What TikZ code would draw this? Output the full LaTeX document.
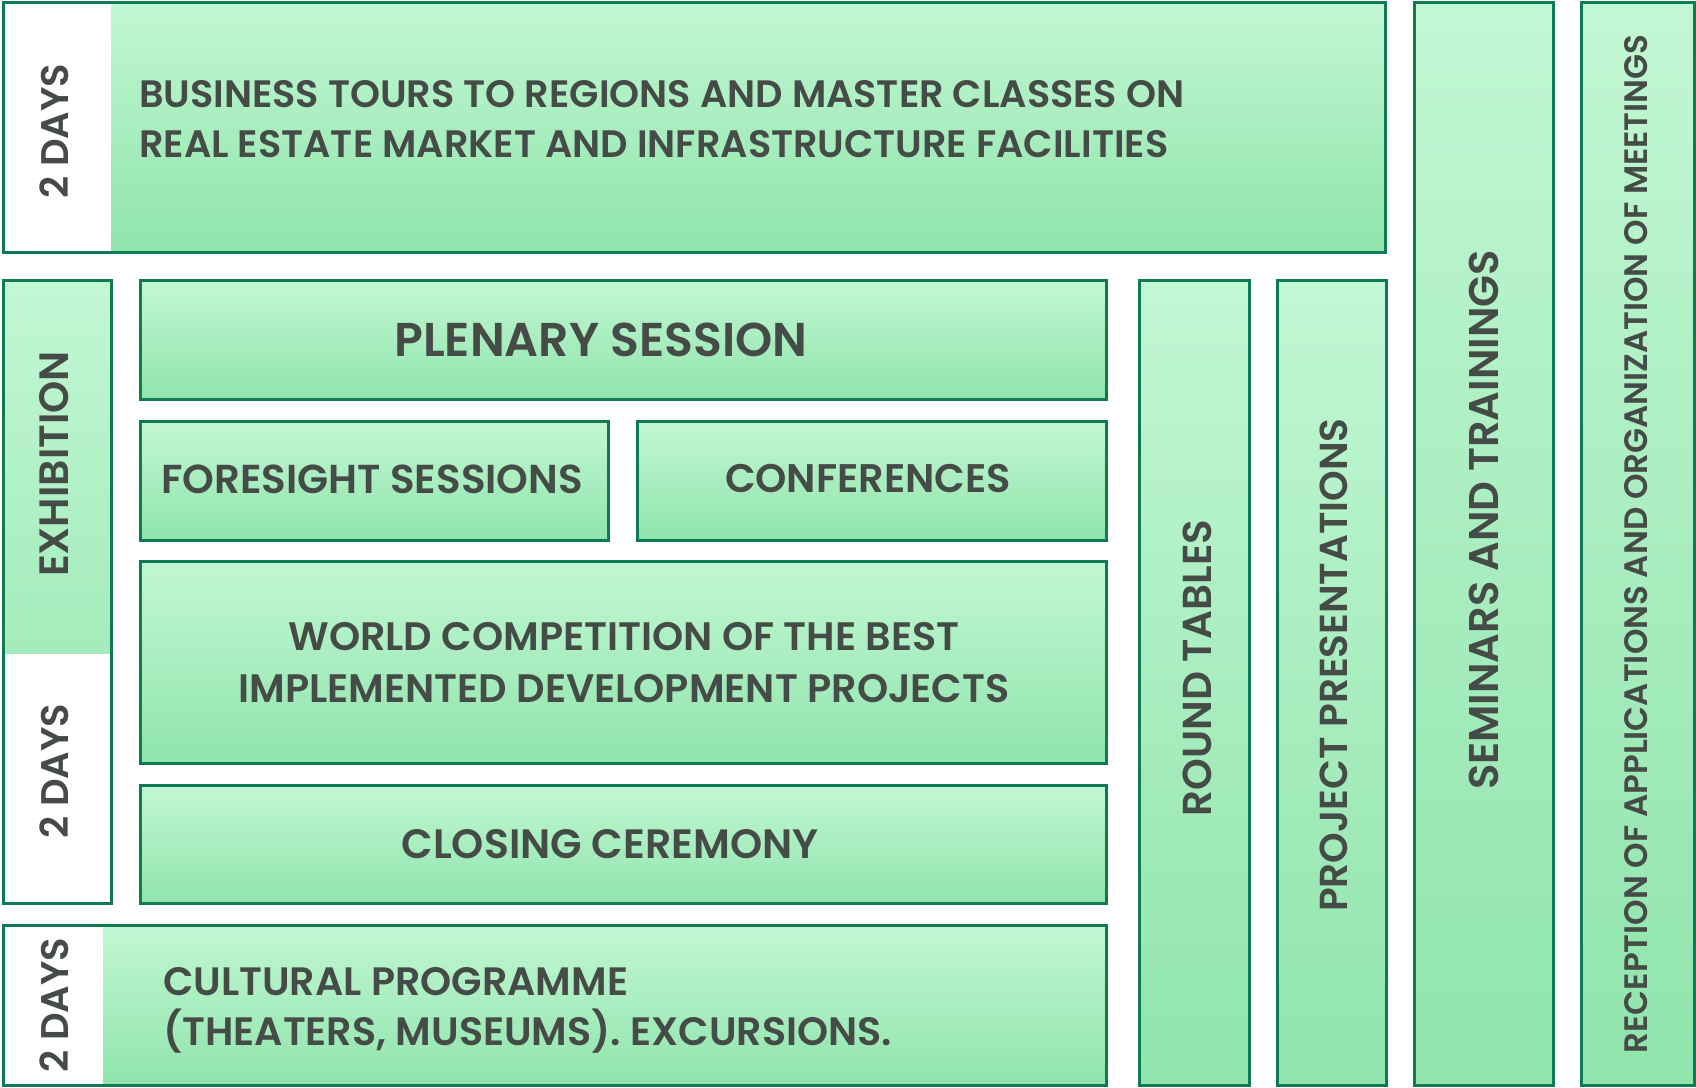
\documentclass[tikz,border=0pt]{standalone}
\usepackage{fontspec}
\newfontfamily\ff{Poppins SemiBold}
\definecolor{bgreen}{HTML}{0E7B52}
\definecolor{gtop}{HTML}{C2F7D3}
\definecolor{gbot}{HTML}{90E4AC}
\definecolor{tgray}{HTML}{454B47}
\tikzset{
  box/.style={draw=bgreen, line width=3pt, top color=gtop, bottom color=gbot},
  lbl/.style={text=tgray, inner sep=0pt, font=\ff},
  vlbl/.style={lbl, rotate=90},
}
\newcommand{\fs}[2]{\fontsize{#1}{#2}\selectfont}
\begin{document}
\begin{tikzpicture}[x=1pt,y=-1pt]
\useasboundingbox (0,0) rectangle (1696,1087);
% top box
\path[box] (3,2) rectangle (1385,252);
\fill[white] (4.5,3.5) rectangle (111,250.5);
\draw[bgreen, line width=3pt] (3,2) rectangle (1385,252);
% exhibition
\path[box] (3,280) rectangle (111,903);
\fill[white] (4.5,654) rectangle (109.5,901.5);
\draw[bgreen, line width=3pt] (3,280) rectangle (111,903);
% centre blocks
\path[box] (140,280) rectangle (1106,399);
\path[box] (140,421) rectangle (608,540);
\path[box] (637,421) rectangle (1106,540);
\path[box] (140,561) rectangle (1106,763);
\path[box] (140,785) rectangle (1106,903);
% cultural
\path[box] (3,925) rectangle (1106,1085);
\fill[white] (4.5,926.5) rectangle (103,1083.5);
\draw[bgreen, line width=3pt] (3,925) rectangle (1106,1085);
% tall columns
\path[box] (1139,280) rectangle (1249,1085);
\path[box] (1277,280) rectangle (1386,1085);
\path[box] (1414,2) rectangle (1553,1085);
\path[box] (1581,2) rectangle (1694,1085);
% labels
\node[vlbl, font=\ff\fs{38.5}{40}] (d1) at (54,131) {2 DAYS};
\node[lbl, anchor=west, align=left, font=\ff\fs{38.2}{50}] (tours) at (139,119.5) {BUSINESS TOURS TO REGIONS AND MASTER CLASSES ON\\REAL ESTATE MARKET AND INFRASTRUCTURE FACILITIES};
\node[vlbl, font=\ff\fs{41}{40}] (exh) at (54,464) {EXHIBITION};
\node[vlbl, font=\ff\fs{38.5}{40}] (d2) at (54,771) {2 DAYS};
\node[lbl, font=\ff\fs{47.4}{50}] (plen) at (601,340) {PLENARY SESSION};
\node[lbl, font=\ff\fs{40.4}{50}] (fore) at (372,479) {FORESIGHT SESSIONS};
\node[lbl, font=\ff\fs{39.9}{50}] (conf) at (868,479) {CONFERENCES};
\node[lbl, align=center, font=\ff\fs{39.7}{52}] (world) at (624,663) {WORLD COMPETITION OF THE BEST\\IMPLEMENTED DEVELOPMENT PROJECTS};
\node[lbl, font=\ff\fs{41}{50}] (close) at (610,844) {CLOSING CEREMONY};
\node[vlbl, font=\ff\fs{38.5}{40}] (d3) at (54,1005) {2 DAYS};
\node[lbl, anchor=west, align=left, font=\ff\fs{39.6}{50}] (cult) at (163,1010) {CULTURAL PROGRAMME\\(THEATERS, MUSEUMS). EXCURSIONS.};
\node[vlbl, font=\ff\fs{40.4}{40}] (round) at (1197,668) {ROUND TABLES};
\node[vlbl, font=\ff\fs{39}{40}] (proj) at (1334,665) {PROJECT PRESENTATIONS};
\node[vlbl, font=\ff\fs{41.5}{40}] (sem) at (1484,520) {SEMINARS AND TRAININGS};
\node[vlbl, font=\ff\fs{32.5}{40}] (rec) at (1636,544) {RECEPTION OF APPLICATIONS AND ORGANIZATION OF MEETINGS};
\end{tikzpicture}
\end{document}
